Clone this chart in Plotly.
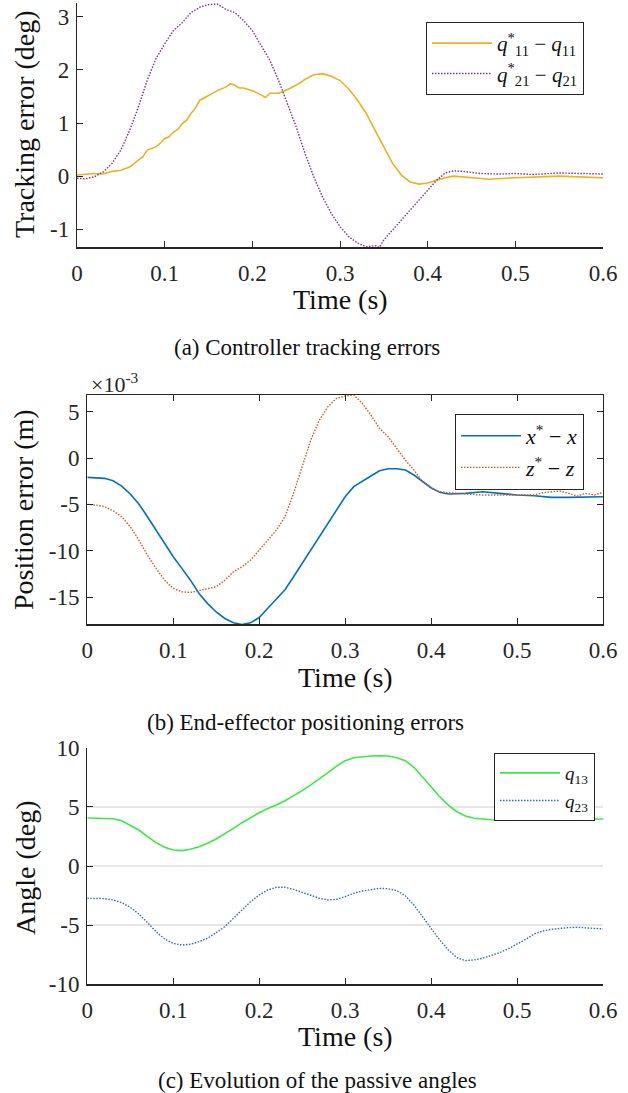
import plotly.graph_objects as go

# ---------------- data ----------------
# (a) Controller tracking errors (deg)
t_a = [0.0, 0.01, 0.02, 0.03, 0.04, 0.05, 0.06, 0.07, 0.075, 0.08, 0.085, 0.09, 0.095, 0.10, 0.105,
       0.11, 0.115, 0.12, 0.125, 0.13, 0.135, 0.14, 0.145, 0.15, 0.16, 0.17, 0.175, 0.18, 0.185, 0.19,
       0.20, 0.21, 0.215, 0.22, 0.23, 0.24, 0.25, 0.26, 0.27, 0.28, 0.29, 0.30, 0.31, 0.32, 0.33,
       0.34, 0.35, 0.36, 0.37, 0.38, 0.39, 0.40, 0.41, 0.42, 0.43, 0.45, 0.47, 0.50, 0.55, 0.60]
q11_err = [0.02, 0.03, 0.05, 0.04, 0.09, 0.11, 0.17, 0.30, 0.36, 0.49, 0.52, 0.55, 0.62, 0.71, 0.74,
           0.83, 0.88, 0.99, 1.05, 1.18, 1.28, 1.43, 1.47, 1.52, 1.61, 1.68, 1.74, 1.71, 1.66, 1.66,
           1.61, 1.53, 1.48, 1.56, 1.56, 1.63, 1.71, 1.82, 1.91, 1.93, 1.88, 1.80, 1.64, 1.43, 1.18,
           0.86, 0.55, 0.24, 0.02, -0.11, -0.15, -0.13, -0.08, -0.03, 0.00, -0.03, -0.06, -0.03, 0.00, -0.03]

t_b = [0.0, 0.01, 0.02, 0.03, 0.04, 0.05, 0.06, 0.07, 0.08, 0.09, 0.10, 0.11, 0.12, 0.13, 0.14,
       0.15, 0.16, 0.17, 0.18, 0.19, 0.20, 0.21, 0.22, 0.23, 0.24, 0.25, 0.26, 0.27, 0.28, 0.29,
       0.30, 0.31, 0.32, 0.33, 0.34, 0.345, 0.35, 0.36, 0.37, 0.38, 0.39, 0.40, 0.41, 0.42, 0.43,
       0.44, 0.46, 0.48, 0.50, 0.52, 0.55, 0.60]
q21_err = [-0.04, -0.05, -0.01, 0.08, 0.24, 0.49, 0.86, 1.30, 1.80, 2.21, 2.49, 2.74, 2.89, 3.08, 3.18,
           3.23, 3.24, 3.14, 3.08, 2.93, 2.74, 2.46, 2.18, 1.80, 1.36, 0.93, 0.43, -0.01, -0.39, -0.70,
           -0.95, -1.14, -1.26, -1.33, -1.31, -1.34, -1.20, -1.01, -0.83, -0.64, -0.45, -0.26, -0.08, 0.06, 0.10,
           0.09, 0.05, 0.04, 0.05, 0.03, 0.06, 0.04]

# (b) End-effector positioning errors (x 1e-3 m)
t_x = [0.0, 0.01, 0.02, 0.03, 0.04, 0.05, 0.06, 0.07, 0.08, 0.09, 0.10, 0.11, 0.12, 0.13, 0.14,
       0.15, 0.16, 0.17, 0.18, 0.19, 0.20, 0.21, 0.22, 0.23, 0.24, 0.25, 0.26, 0.27, 0.28, 0.29,
       0.30, 0.31, 0.32, 0.33, 0.34, 0.35, 0.36, 0.37, 0.38, 0.39, 0.40, 0.41, 0.42, 0.44, 0.46,
       0.48, 0.50, 0.52, 0.54, 0.56, 0.60]
x_err = [-2.09, -2.12, -2.19, -2.45, -3.02, -3.88, -4.96, -6.33, -7.77, -9.20, -10.65, -11.90, -13.17, -14.60, -15.70,
         -16.60, -17.30, -17.77, -17.95, -17.77, -17.20, -16.20, -15.25, -14.20, -12.80, -11.37, -9.93, -8.49, -7.05, -5.60,
         -4.17, -3.09, -2.48, -1.94, -1.37, -1.15, -1.15, -1.29, -1.83, -2.48, -3.20, -3.70, -3.88, -3.81, -3.63,
         -3.81, -3.99, -4.06, -4.24, -4.24, -4.17]

t_z = [0.0, 0.01, 0.02, 0.03, 0.04, 0.05, 0.06, 0.07, 0.08, 0.09, 0.10, 0.11, 0.12, 0.13, 0.14,
       0.15, 0.16, 0.17, 0.18, 0.19, 0.20, 0.21, 0.22, 0.23, 0.24, 0.25, 0.26, 0.27, 0.28, 0.29,
       0.30, 0.31, 0.32, 0.33, 0.34, 0.35, 0.36, 0.37, 0.38, 0.39, 0.40, 0.41, 0.42, 0.44, 0.46,
       0.48, 0.50, 0.52, 0.53, 0.54, 0.55, 0.56, 0.57, 0.58, 0.59, 0.60]
z_err = [-5.00, -5.07, -5.25, -5.68, -6.33, -7.41, -8.85, -10.47, -11.90, -13.17, -14.06, -14.42, -14.50, -14.30, -14.06,
         -13.88, -13.17, -12.27, -11.73, -11.00, -9.93, -8.85, -7.77, -6.33, -3.81, -0.94, 1.94, 4.10, 5.54, 6.44,
         6.69, 6.80, 5.90, 4.64, 3.20, 2.30, 1.04, -0.22, -1.29, -2.55, -3.27, -3.63, -3.74, -3.88, -3.99,
         -3.99, -3.99, -3.99, -3.74, -3.63, -3.56, -3.81, -4.10, -3.81, -3.99, -3.70]

# (c) Evolution of the passive angles (deg)
t_c = [0.0, 0.02, 0.03, 0.04, 0.05, 0.06, 0.07, 0.08, 0.09, 0.10, 0.11, 0.12, 0.13, 0.14, 0.15,
       0.16, 0.17, 0.18, 0.19, 0.20, 0.21, 0.22, 0.23, 0.24, 0.25, 0.26, 0.27, 0.28, 0.29, 0.30,
       0.31, 0.32, 0.33, 0.34, 0.35, 0.36, 0.37, 0.38, 0.39, 0.40, 0.41, 0.42, 0.43, 0.44, 0.45,
       0.46, 0.47, 0.48, 0.49, 0.50, 0.51, 0.52, 0.53, 0.54, 0.55, 0.56, 0.57, 0.58, 0.59, 0.60]
q13 = [4.06, 4.06, 4.00, 3.83, 3.46, 3.04, 2.48, 1.97, 1.58, 1.35, 1.30, 1.41, 1.63, 1.92, 2.28,
       2.70, 3.18, 3.66, 4.11, 4.50, 4.87, 5.15, 5.52, 5.92, 6.37, 6.85, 7.35, 7.89, 8.45, 8.90,
       9.15, 9.24, 9.30, 9.32, 9.30, 9.15, 8.90, 8.34, 7.55, 6.70, 5.86, 5.15, 4.59, 4.23, 4.03,
       3.94, 3.91, 3.89, 3.89, 3.89, 3.89, 3.89, 3.91, 3.94, 3.97, 3.96, 3.94, 3.94, 3.95, 3.97]
q23 = [-2.73, -2.76, -2.87, -3.10, -3.49, -4.06, -4.79, -5.55, -6.17, -6.54, -6.68, -6.62, -6.39, -6.11, -5.63,
       -5.13, -4.42, -3.72, -3.01, -2.45, -2.03, -1.80, -1.80, -1.97, -2.23, -2.51, -2.73, -2.87, -2.82, -2.59,
       -2.31, -2.11, -1.97, -1.89, -1.92, -2.08, -2.51, -3.30, -4.28, -5.27, -6.25, -7.10, -7.75, -8.00, -7.94,
       -7.80, -7.58, -7.32, -6.99, -6.62, -6.20, -5.75, -5.49, -5.35, -5.27, -5.21, -5.18, -5.21, -5.27, -5.32]

x_ticks = [0, 0.1, 0.2, 0.3, 0.4, 0.5, 0.6]
x_ticktext = ["0", "0.1", "0.2", "0.3", "0.4", "0.5", "0.6"]
ya_ticks = [-1, 0, 1, 2, 3]
ya_ticktext = ["-1", "0", "1", "2", "3"]
yb_ticks = [-15, -10, -5, 0, 5]
yb_ticktext = ["-15", "-10", "-5", "0", "5"]
yc_ticks = [-10, -5, 0, 5, 10]
yc_ticktext = ["-10", "-5", "0", "5", "10"]

# ---------------- figure ----------------
W, H = 628, 1093
FONT = "Liberation Serif, Times New Roman, Times, serif"
AX = "#262626"


def px_x(p):
    return p / W


def px_y(p):
    return 1 - p / H


fig = go.Figure()

fig.add_trace(go.Scatter(x=t_a, y=q11_err, mode="lines", xaxis="x", yaxis="y",
                         line=dict(color="#EDB120", width=1.6),
                         name="<i>q</i><sup>*</sup><sub>11</sub> − <i>q</i><sub>11</sub>", legend="legend"))
fig.add_trace(go.Scatter(x=t_b, y=q21_err, mode="lines", xaxis="x", yaxis="y",
                         line=dict(color="#7E2F8E", width=1.4, dash="1.5px,1.5px"),
                         name="<i>q</i><sup>*</sup><sub>21</sub> − <i>q</i><sub>21</sub>", legend="legend"))

fig.add_trace(go.Scatter(x=t_x, y=x_err, mode="lines", xaxis="x2", yaxis="y2",
                         line=dict(color="#0072BD", width=1.6),
                         name="<i>x</i><sup>*</sup> − <i>x</i>", legend="legend2"))
fig.add_trace(go.Scatter(x=t_z, y=z_err, mode="lines", xaxis="x2", yaxis="y2",
                         line=dict(color="#D95319", width=1.4, dash="1.5px,1.5px"),
                         name="<i>z</i><sup>*</sup> − <i>z</i>", legend="legend2"))

fig.add_trace(go.Scatter(x=t_c, y=q13, mode="lines", xaxis="x3", yaxis="y3",
                         line=dict(color="#3DE845", width=1.6),
                         name="<i>q</i><sub>13</sub>", legend="legend3"))
fig.add_trace(go.Scatter(x=t_c, y=q23, mode="lines", xaxis="x3", yaxis="y3",
                         line=dict(color="#2F6CAB", width=1.4, dash="1.5px,1.5px"),
                         name="<i>q</i><sub>23</sub>", legend="legend3"))

tickfont = dict(family=FONT, size=23, color=AX)


def xaxis(domain, anchor, mirror):
    return dict(domain=domain, anchor=anchor, range=[0, 0.6], tickvals=x_ticks, ticktext=x_ticktext,
                ticks="inside", ticklen=6, tickwidth=1, tickcolor=AX, showline=True, linecolor=AX,
                linewidth=1.2, mirror=mirror, showgrid=False, zeroline=False, tickfont=tickfont,
                ticklabelstandoff=5, fixedrange=True, automargin=False)


def yaxis(domain, anchor, rng, tv, tt, mirror, grid=False):
    return dict(domain=domain, anchor=anchor, range=rng, tickvals=tv, ticktext=tt,
                ticks="inside", ticklen=6, tickwidth=1, tickcolor=AX, showline=True, linecolor=AX,
                linewidth=1.2, mirror=mirror, showgrid=grid, gridcolor="#e6e6e6", gridwidth=1.5,
                zeroline=False, tickfont=tickfont, ticklabelstandoff=2, fixedrange=True,
                automargin=False)


xa_dom = [px_x(77), px_x(603)]
xbc_dom = [px_x(87.3), px_x(603)]

fig.update_layout(
    width=W, height=H, margin=dict(l=0, r=0, t=0, b=0, pad=0, autoexpand=False),
    paper_bgcolor="white", plot_bgcolor="white",
    font=dict(family=FONT, color=AX),
    xaxis=xaxis(xa_dom, "y", False),
    yaxis=yaxis([px_y(247.3), px_y(3)], "x", [-1.34, 3.26], ya_ticks, ya_ticktext, False),
    xaxis2=xaxis(xbc_dom, "y2", "ticks"),
    yaxis2=yaxis([px_y(624.3), px_y(394.7)], "x2", [-17.93, 6.83], yb_ticks, yb_ticktext, "ticks"),
    xaxis3=xaxis(xbc_dom, "y3", False),
    yaxis3=yaxis([px_y(984.3), px_y(747.7)], "x3", [-10, 10], yc_ticks, yc_ticktext, False, grid=True),
    legend=dict(x=px_x(584), y=px_y(22), xanchor="right", yanchor="top", bgcolor="white",
                bordercolor=AX, borderwidth=1, font=dict(family=FONT, size=21, color="#111"),
                itemwidth=60, tracegroupgap=0),
    legend2=dict(x=px_x(584), y=px_y(414), xanchor="right", yanchor="top", bgcolor="white",
                 bordercolor=AX, borderwidth=1, font=dict(family=FONT, size=22, color="#111"),
                 itemwidth=60, tracegroupgap=0),
    legend3=dict(x=px_x(595), y=px_y(753), xanchor="right", yanchor="top", bgcolor="white",
                 bordercolor=AX, borderwidth=1, font=dict(family=FONT, size=19, color="#111"),
                 itemwidth=60, tracegroupgap=0),
)

annos = [
    # axis titles
    dict(text="Time (s)", x=px_x(340), y=px_y(299), size=28, angle=0),
    dict(text="Time (s)", x=px_x(345), y=px_y(677), size=28, angle=0),
    dict(text="Time (s)", x=px_x(345), y=px_y(1036), size=28, angle=0),
    dict(text="Tracking error (deg)", x=px_x(25), y=px_y(124), size=28, angle=-90),
    dict(text="Position error (m)", x=px_x(23), y=px_y(510), size=28, angle=-90),
    dict(text="Angle (deg)", x=px_x(25), y=px_y(868), size=28, angle=-90),
    # captions
    dict(text="(a) Controller tracking errors", x=px_x(307), y=px_y(347), size=23, angle=0),
    dict(text="(b) End-effector positioning errors", x=px_x(305), y=px_y(722), size=23, angle=0),
    dict(text="(c) Evolution of the passive angles", x=px_x(317), y=px_y(1080), size=23, angle=0),
]
for a in annos:
    fig.add_annotation(text=a["text"], x=a["x"], y=a["y"], xref="paper", yref="paper",
                       xanchor="center", yanchor="middle", showarrow=False, textangle=a["angle"],
                       font=dict(family=FONT, size=a["size"], color="#111"))

fig.add_annotation(text="×10<sup>-3</sup>", x=px_x(89), y=px_y(383), xref="paper", yref="paper",
                   xanchor="left", yanchor="middle", showarrow=False,
                   font=dict(family=FONT, size=22, color=AX))

fig.write_html("out.html", config={"displayModeBar": False, "staticPlot": True},
               post_script="document.body.style.margin='0';document.body.style.padding='0';"
                           "document.body.style.overflow='hidden';")
